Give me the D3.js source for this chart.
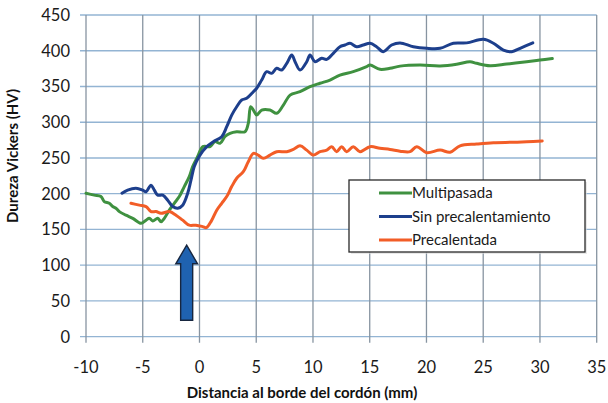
<!DOCTYPE html>
<html>
<head>
<meta charset="utf-8">
<script src="https://cdn.jsdelivr.net/npm/d3@7"></script>
<style>
  html, body { margin: 0; padding: 0; background: #ffffff; }
  svg { display: block; font-family: Lato, "Open Sans", sans-serif; }
</style>
</head>
<body>
<svg id="chart" width="608" height="403"></svg>
<script>
// Hardness profiles across the weld bead edge (mm vs HV)
const xTicks = [-10, -5, 0, 5, 10, 15, 20, 25, 30, 35];
const yTicks = [0, 50, 100, 150, 200, 250, 300, 350, 400, 450];

const seriesNames = ["Multipasada", "Sin precalentamiento", "Precalentada"];
const seriesColors = ["#3f9140", "#1d3f8c", "#f25d27"];

const multipasada = [
  [-10, 200.6], [-9.27, 198], [-8.68, 196], [-8.39, 189], [-7.95, 186.6], [-7.65, 182],
  [-7.36, 179.6], [-7.06, 175], [-6.48, 170], [-5.88, 165.6], [-5.15, 158.6], [-4.71, 163],
  [-4.42, 165.6], [-4.12, 162], [-3.68, 165.6], [-3.39, 160.8], [-3.1, 165.6], [-2.66, 177],
  [-2.22, 186.6], [-1.78, 196], [-1.34, 210], [-0.9, 224], [-0.6, 238], [-0.16, 252],
  [0.3, 266], [0.93, 266], [1.37, 273], [1.81, 270.5], [2.25, 280], [2.69, 284.5],
  [3.28, 286.8], [4.01, 286.8], [4.3, 298.5], [4.51, 321.7], [4.75, 317], [5.04, 310],
  [5.48, 317], [6.21, 317], [6.8, 312.5], [7.39, 324], [7.98, 338], [8.86, 342.7],
  [9.74, 349.7], [10.62, 354.5], [11.5, 359], [12.38, 366], [13.55, 370.7], [14.73, 377.7],
  [15.03, 380], [15.9, 374], [16.79, 375.4], [17.67, 378.5], [19.43, 380], [21.2, 378.7],
  [22.66, 381], [23.84, 384.7], [24.42, 382.4], [25.6, 379], [27.07, 381.4], [28.83, 384.7],
  [30, 387], [31.09, 389]
];

const sinPrecalentamiento = [
  [-6.83, 200.6], [-6.33, 205], [-5.6, 207.6], [-5, 205], [-4.71, 202.8], [-4.27, 212],
  [-3.98, 205], [-3.68, 198], [-3.24, 198], [-2.8, 191], [-2.36, 182], [-1.92, 179.6],
  [-1.48, 184], [-1.04, 200.6], [-0.75, 219], [-0.46, 238], [0, 253], [0.64, 265.8],
  [1.22, 272.8], [1.96, 279.8], [2.4, 293.8], [2.84, 310], [3.28, 321.7], [3.72, 331],
  [4.16, 333.5], [4.75, 342.7], [5.04, 347.5], [5.48, 359], [5.92, 370.7], [6.36, 368.4],
  [6.8, 375.4], [7.24, 373], [7.69, 382.4], [8.13, 394], [8.42, 384.7], [8.86, 373],
  [9.45, 384.7], [9.74, 394], [10.18, 384.7], [10.77, 389.5], [11.21, 388], [11.79, 396.4],
  [12.38, 405.7], [12.82, 408], [13.26, 410.5], [13.85, 405.7], [14.43, 408], [15.03, 410.5],
  [15.6, 405.7], [16.2, 398.7], [16.93, 408], [17.67, 411], [18.84, 405.7], [20.02, 403.4],
  [21.2, 403.4], [22.37, 410.5], [23.55, 411], [25.02, 416], [25.9, 410.5], [26.78, 401],
  [27.52, 398.7], [28.25, 403.4], [29.37, 411]
];

const precalentada = [
  [-6.04, 186.6], [-5.3, 184], [-4.71, 182], [-4.27, 175], [-3.83, 175], [-3.39, 172.6],
  [-2.66, 175], [-2.07, 170], [-1.48, 163], [-0.9, 156], [-0.31, 156], [0.28, 154],
  [0.6, 152.5], [1.05, 162], [1.52, 177], [1.96, 186.6], [2.4, 196], [2.84, 210],
  [3.28, 221.6], [3.86, 230.8], [4.3, 244.8], [4.75, 256.5], [5.18, 254], [5.62, 249.5],
  [6.21, 254], [6.8, 258.8], [7.69, 258.8], [8.27, 262], [8.86, 267], [9.45, 261],
  [10.03, 254], [10.62, 258.8], [11.21, 261], [11.65, 265.8], [12.09, 258.8], [12.53, 265.8],
  [12.97, 258.8], [13.55, 265.8], [14.14, 258.8], [15.03, 265.8], [15.9, 263.5], [16.79, 262],
  [17.67, 259.5], [18.55, 258.8], [19.14, 265.8], [20.02, 257.4], [21.2, 261], [22.08, 258],
  [22.96, 267], [24.42, 269.5], [25.9, 271.4], [27.67, 272], [28.83, 272.8], [30.2, 273.7]
];

const seriesData = [multipasada, sinPrecalentamiento, precalentada];

// Arrow marking the bead edge, in data units: tip, head base, tail
const arrowX = -1.13;
const arrowTipY = 128;
const arrowHeadBaseY = 102;
const arrowTailY = 23;
const arrowHeadHalf = 0.96;
const arrowShaftHalf = 0.53;

const svg = d3.select("#chart");
const margin = { left: 86, right: 11.3, top: 15, bottom: 66.3 };
const W = 608, H = 403;

const x = d3.scaleLinear().domain([-10, 35]).range([margin.left, W - margin.right]);
const y = d3.scaleLinear().domain([0, 450]).range([H - margin.bottom, margin.top]);

const g = svg.append("g");

// horizontal grid
g.append("g").selectAll("line").data(yTicks).join("line")
  .attr("x1", x(-10) - 6).attr("x2", x(35))
  .attr("y1", d => y(d)).attr("y2", d => y(d))
  .attr("stroke", "#93b4d3").attr("stroke-width", 1.3);

// vertical grid
g.append("g").selectAll("line").data(xTicks).join("line")
  .attr("x1", d => x(d)).attr("x2", d => x(d))
  .attr("y1", y(450)).attr("y2", y(0) + 6)
  .attr("stroke", "#8794a1").attr("stroke-width", 1.3);

// y tick labels
g.append("g").selectAll("text").data(yTicks).join("text")
  .attr("x", x(-10) - 16).attr("y", d => y(d))
  .attr("dy", "0.36em").attr("text-anchor", "end")
  .attr("font-size", 16.5).attr("fill", "#1a1a1a")
  .text(d => d);

// x tick labels
g.append("g").selectAll("text").data(xTicks).join("text")
  .attr("x", d => x(d)).attr("y", y(0) + 30)
  .attr("dy", "0.36em").attr("text-anchor", "middle")
  .attr("font-size", 16.5).attr("fill", "#1a1a1a")
  .text(d => d);

// axis titles
svg.append("text")
  .attr("x", 302).attr("y", 393).attr("dy", "0.36em")
  .attr("text-anchor", "middle").attr("font-size", 15).attr("font-weight", "bold")
  .attr("fill", "#111").text("Distancia al borde del cordón (mm)");

svg.append("text")
  .attr("transform", "translate(13,156) rotate(-90)")
  .attr("dy", "0.36em")
  .attr("text-anchor", "middle").attr("font-size", 15).attr("font-weight", "bold")
  .attr("fill", "#111").text("Dureza Vickers (HV)");

// series lines
const line = d3.line().x(d => x(d[0])).y(d => y(d[1])).curve(d3.curveCatmullRom.alpha(0.5));
g.append("g").selectAll("path").data(seriesData).join("path")
  .attr("d", line)
  .attr("fill", "none")
  .attr("stroke", (d, i) => seriesColors[i])
  .attr("stroke-width", 3)
  .attr("stroke-linejoin", "round")
  .attr("stroke-linecap", "round");

// arrow
const arrowPts = [
  [arrowX, arrowTipY],
  [arrowX + arrowHeadHalf, arrowHeadBaseY],
  [arrowX + arrowShaftHalf, arrowHeadBaseY],
  [arrowX + arrowShaftHalf, arrowTailY],
  [arrowX - arrowShaftHalf, arrowTailY],
  [arrowX - arrowShaftHalf, arrowHeadBaseY],
  [arrowX - arrowHeadHalf, arrowHeadBaseY]
];
g.append("path")
  .attr("d", d3.line().x(d => x(d[0])).y(d => y(d[1]))(arrowPts) + "Z")
  .attr("fill", "#1f62b0")
  .attr("stroke", "#17263f")
  .attr("stroke-width", 1.4)
  .attr("stroke-linejoin", "miter");

// legend
const legend = svg.append("g");
legend.append("rect")
  .attr("x", 351).attr("y", 182).attr("width", 236).attr("height", 72)
  .attr("fill", "#d8d8d8").attr("opacity", 0.6);
legend.append("rect")
  .attr("x", 349).attr("y", 180).attr("width", 236).attr("height", 72)
  .attr("fill", "#ffffff").attr("stroke", "#2a2a2a").attr("stroke-width", 1.3);
const legendY = [193, 216.5, 240];
const items = legend.selectAll("g.item").data(seriesNames).join("g").attr("class", "item");
items.append("line")
  .attr("x1", 379).attr("x2", 412)
  .attr("y1", (d, i) => legendY[i]).attr("y2", (d, i) => legendY[i])
  .attr("stroke", (d, i) => seriesColors[i]).attr("stroke-width", 3);
items.append("text")
  .attr("x", 412).attr("y", (d, i) => legendY[i]).attr("dy", "0.36em")
  .attr("font-size", 15).attr("fill", "#1a1a1a")
  .text(d => d);
</script>
</body>
</html>
